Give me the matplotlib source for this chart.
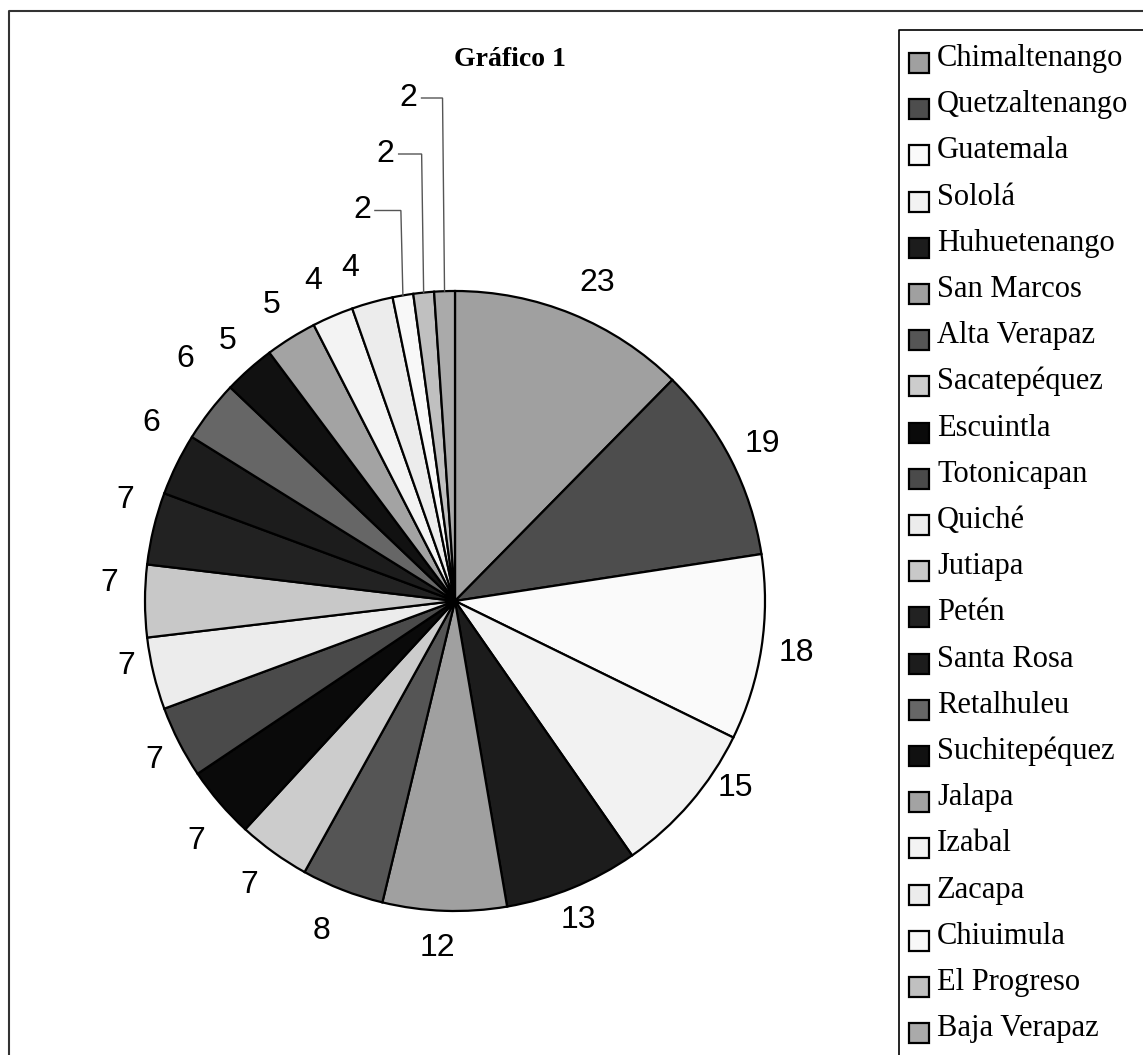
import numpy as np
import matplotlib
matplotlib.use("Agg")
import matplotlib.pyplot as plt
from matplotlib.patches import Rectangle
from matplotlib.lines import Line2D

# Data: cases per department
departamentos = [
    "Chimaltenango", "Quetzaltenango", "Guatemala", "Sololá", "Huhuetenango",
    "San Marcos", "Alta Verapaz", "Sacatepéquez", "Escuintla", "Totonicapan",
    "Quiché", "Jutiapa", "Petén", "Santa Rosa", "Retalhuleu", "Suchitepéquez",
    "Jalapa", "Izabal", "Zacapa", "Chiuimula", "El Progreso", "Baja Verapaz",
]
casos = [23, 19, 18, 15, 13, 12, 8, 7, 7, 7, 7, 7, 7, 6, 6, 5, 5, 4, 4, 2, 2, 2]
colores = [
    "#a0a0a0", "#4d4d4d", "#fafafa", "#f2f2f2", "#1c1c1c",
    "#a0a0a0", "#555555", "#cccccc", "#0a0a0a", "#4a4a4a",
    "#ececec", "#c8c8c8", "#222222", "#1c1c1c", "#666666",
    "#111111", "#a3a3a3", "#f3f3f3", "#ececec", "#f8f8f8",
    "#c0c0c0", "#aaaaaa",
]
titulo = "Gráfico 1"

W, H = 1143, 1055
fig = plt.figure(figsize=(W / 100, H / 100), dpi=100)
ax = fig.add_axes([0, 0, 1, 1])


def Y(y):
    """Convert a top-down pixel row into the upward axis coordinate."""
    return H - y


cx, cy, R = 455, Y(601), 310

wedges, _ = ax.pie(
    casos, colors=colores, startangle=90, counterclock=False,
    center=(cx, cy), radius=R, frame=True,
    wedgeprops=dict(edgecolor="black", linewidth=1.6),
)

ax.set_xlim(0, W)
ax.set_ylim(0, H)
ax.set_aspect("equal")
ax.axis("off")

label_font = dict(family="Liberation Sans", size=23, color="black")
label_r = 1.115 * R

# Hand-placed nudges (pixels, right / down) for the outside value labels
label_nudge = [
    (11, 2), (0, 0), (0, 0), (18, -38), (-8, -1), (-6, 2), (-8, 8),
    (-4, 4), (4, 15), (7, 2), (7, -16), (0, -18), (6, -20),
    (7, -26), (4, -30), (2, -2), (-1, -3), (-6, -2), (-13, 0),
    (0, 0), (0, 0), (0, 0),
]

# Slices with their label lifted above the pie, joined by a leader line
lifted = {19: (-41, 210.5), 20: (-38, 154), 21: (-36, 98)}

for i, (w, v) in enumerate(zip(wedges, casos)):
    mid = np.deg2rad((w.theta1 + w.theta2) / 2)
    if i in lifted:
        ex = cx + R * np.cos(mid)
        ey = cy + R * np.sin(mid)
        dx, ly = lifted[i]
        lx, ly = ex + dx, Y(ly)
        ax.text(lx, ly, str(v), ha="center", va="center", **label_font)
        ax.plot([lx + 13, ex - 2, ex], [ly, ly, ey], color="#555555",
                lw=1.0, solid_joinstyle="miter")
    else:
        ndx, ndy = label_nudge[i]
        x = cx + label_r * np.cos(mid) + ndx
        y = cy + label_r * np.sin(mid) - ndy
        ax.text(x, y, str(v), ha="center", va="center", **label_font)

# Title
ax.text(510, Y(60), titulo, ha="center", va="center",
        family="Liberation Serif", weight="bold", size=20)

# Outer chart frame (continues beyond the right and bottom edges)
ax.add_line(Line2D([9, 9, W + 5], [Y(H + 5), Y(11), Y(11)],
                   color="#333333", lw=1.5))

# Legend box
ax.add_line(Line2D([899, 899, W + 5], [Y(H + 5), Y(30), Y(30)],
                   color="black", lw=1.2))

first, step = 63, 46.2
for i, (name, col) in enumerate(zip(departamentos, colores)):
    yc = first + step * i
    ax.add_patch(Rectangle((908.5, Y(yc + 10)), 20, 20, facecolor=col,
                           edgecolor="black", lw=1.6))
    ax.text(937, Y(yc + 3), name, ha="left", va="baseline",
            family="Liberation Serif", size=22, color="black")

fig.savefig("out.png", dpi=100)
